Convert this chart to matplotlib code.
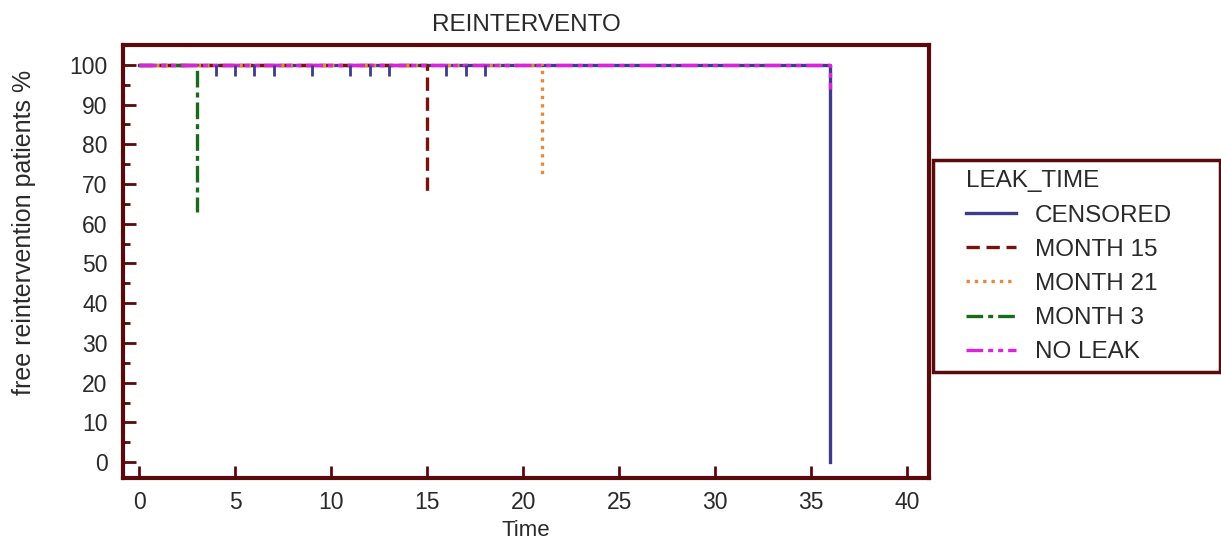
import matplotlib.pyplot as plt
from matplotlib.patches import Rectangle
from matplotlib.ticker import MultipleLocator

plt.rcParams['font.family'] = ['Liberation Sans', 'DejaVu Sans']

# Kaplan-Meier curves per group: event time and survival after the drop
groups = ['CENSORED', 'MONTH 15', 'MONTH 21', 'MONTH 3', 'NO LEAK']
drop_time = [36, 15, 21, 3, 36]
drop_value = [0, 67, 72, 63, 94]
censor_times = [4, 5, 6, 7, 9, 11, 12, 13, 16, 17, 18]

colors = ['#3c3c8a', '#7a1010', '#e8883a', '#1a6a1a', '#e020e0']
styles = ['-', (0, (4, 2)), (0, (1, 1.5)), (0, (5, 1.5, 1.5, 1.5)), (0, (5, 1.5, 1.5, 1.5, 1.5, 1.5))]
frame = '#5a0a0a'
txt = '#2a2a2a'

fig = plt.figure(figsize=(12.21, 5.55), dpi=100)
fig.patch.set_facecolor('white')
ax = fig.add_axes([0.1007, 0.1387, 0.6602, 0.7803])

for g, t, v, c, ls in zip(groups, drop_time, drop_value, colors, styles):
    ax.plot([0, t, t], [100, 100, v], color=c, linestyle=ls, lw=2.4, label=g)

# censor marks on the CENSORED curve
ax.vlines(censor_times, 97.3, 100, color=colors[0], lw=2)

ax.set_xlim(-0.85, 41.15)
ax.set_ylim(-4, 105)
ax.xaxis.set_major_locator(MultipleLocator(5))
ax.yaxis.set_major_locator(MultipleLocator(10))
ax.yaxis.set_minor_locator(MultipleLocator(5))
ax.tick_params(direction='in', colors=frame, labelcolor=txt, labelsize=16.5,
               width=2, length=9)
ax.tick_params(axis='y', which='minor', direction='in', color=frame, width=2, length=5)
ax.tick_params(axis='y', pad=11)
ax.tick_params(axis='x', pad=9)
for s in ax.spines.values():
    s.set_color(frame)
    s.set_linewidth(3)

ax.set_title('REINTERVENTO', fontsize=17.5, color=txt, pad=10)
ax.set_xlabel('Time', fontsize=16, color=txt, labelpad=5)
ax.set_ylabel('free reintervention patients %', fontsize=18, color=txt)
ax.yaxis.set_label_coords(-0.108, 0.568)

# legend box drawn separately so the inner padding can match
fig.patches.append(Rectangle((0.764, 0.330), 0.235, 0.382, transform=fig.transFigure,
                             facecolor='white', edgecolor=frame, lw=2.5, zorder=0))
leg = fig.legend(loc='upper left', bbox_to_anchor=(0.791, 0.693), title='LEAK_TIME',
                 fontsize=17.5, title_fontsize=17.5, frameon=False,
                 handlelength=2.05, handletextpad=0.8,
                 borderpad=0, labelspacing=0.5, borderaxespad=0, alignment='left')
for t in leg.get_texts():
    t.set_color(txt)
leg.get_title().set_color(txt)

fig.savefig('out.png', dpi=100)
